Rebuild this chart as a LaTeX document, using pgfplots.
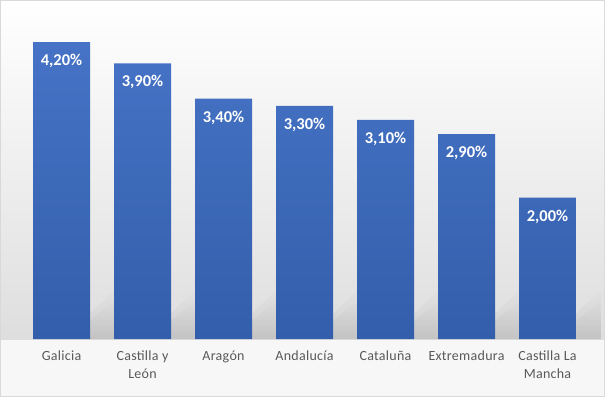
\documentclass[border=0pt]{standalone}
\usepackage{pgfplots}
\pgfplotsset{compat=1.18}
\usepackage{fontspec}
\setmainfont{Carlito}
\newfontfamily\labfont[LetterSpace=2]{Carlito}
\definecolor{bartop}{HTML}{4673C6}
\definecolor{barbot}{HTML}{335EAB}
\definecolor{labgray}{HTML}{595959}
\definecolor{framegray}{HTML}{D9D9D9}
\begin{document}
\begin{tikzpicture}[x=1pt,y=1pt]
\useasboundingbox (0,0) rectangle (605,397);
\fill[color=white] (0,0) rectangle (605,397);
\fill[color={rgb,255:red,247;green,247;blue,247}] (1,1) rectangle (604,58);
\shade[top color=white, bottom color={rgb,255:red,222;green,222;blue,222}] (1,58) rectangle (604,396);
\begin{axis}[
  at={(21pt,58pt)}, anchor=south west,
  scale only axis, width=567pt, height=318pt,
  xmin=-0.5, xmax=6.5, ymin=0, ymax=4.5,
  axis line style={draw=none},
  tick style={draw=none},
  ytick=\empty,
  xtick=data,
  xticklabels={Galicia, {Castilla y\\León}, Aragón, Andalucía, Cataluña, Extremadura, {Castilla La\\Mancha}},
  xticklabel style={font=\labfont\fontsize{14}{18}\selectfont, text=labgray, align=center, anchor=north, yshift=-4pt},
  clip=false,
  ybar, bar width=57pt,
  nodes near coords,
  point meta=explicit symbolic,
  every node near coord/.append style={font=\bfseries\fontsize{16.5}{18}\selectfont, text=white, anchor=center, yshift=-19pt},
]
% soft shadows of the bars
\pgfplotsinvokeforeach{0,...,6}{
  \shade[top color={rgb,255:red,224;green,224;blue,224}, bottom color={rgb,255:red,196;green,196;blue,196}, draw=none, opacity=0.5]
   (axis cs:#1+0.352,0) -- (axis cs:#1+0.352,0.36) -- (axis cs:#1+0.66,0.7) -- (axis cs:#1+0.66,0) -- cycle;
  \shade[top color={rgb,255:red,220;green,220;blue,220}, bottom color={rgb,255:red,190;green,190;blue,190}, draw=none, opacity=0.7]
   (axis cs:#1+0.352,0) -- (axis cs:#1+0.352,0.26) -- (axis cs:#1+0.66,0.54) -- (axis cs:#1+0.66,0) -- cycle;
}
\addplot[draw=none, shading=axis, top color=bartop, bottom color=barbot] coordinates {
  (0,4.2) [4,20\%]
  (1,3.9) [3,90\%]
  (2,3.4) [3,40\%]
  (3,3.3) [3,30\%]
  (4,3.1) [3,10\%]
  (5,2.9) [2,90\%]
  (6,2.0) [2,00\%]
};
\end{axis}
\draw[color=framegray, line width=1pt] (0.5,0.5) rectangle (604.5,396.5);
\end{tikzpicture}
\end{document}
